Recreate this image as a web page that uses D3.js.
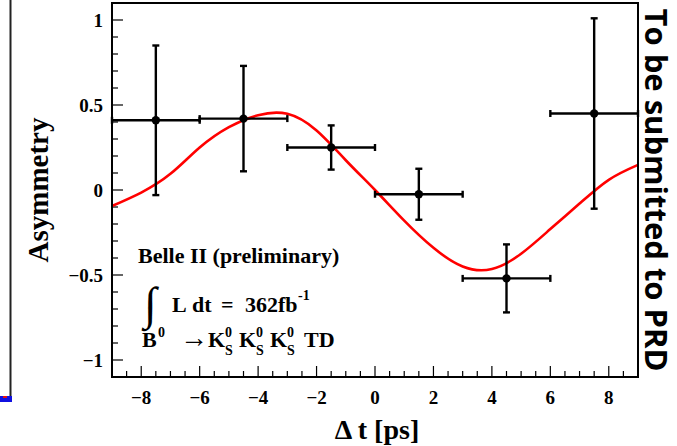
<!DOCTYPE html>
<html>
<head>
<meta charset="utf-8">
<script src="https://cdn.jsdelivr.net/npm/d3@7"></script>
<style>
  body { margin: 0; background: #fff; }
  svg { display: block; }
  text { font-family: "Liberation Serif", "Times New Roman", serif; font-weight: bold; }
</style>
</head>
<body>
<svg id="chart" width="677" height="446"></svg>
<script>
// measured bins
const binCenter = [-7.5, -4.5, -1.5, 1.5, 4.5, 7.5]
const binHalfWidth = [1.5, 1.5, 1.5, 1.5, 1.5, 1.5]
const asym = [0.41, 0.42, 0.25, -0.025, -0.52, 0.45]
const asymErr = [0.44, 0.31, 0.13, 0.15, 0.20, 0.56]

// fitted curve at each ps
const curveT = [-9, -8, -7, -6, -5, -4, -3, -2, -1, 0, 1, 2, 3, 4, 5, 6, 7, 8, 9]
const curveA = [-0.094, -0.015, 0.095, 0.25, 0.37, 0.44, 0.448, 0.35, 0.175, 0.0, -0.18, -0.34, -0.45, -0.465, -0.375, -0.23, -0.08, 0.06, 0.148]

const xTicks = [-8, -6, -4, -2, 0, 2, 4, 6, 8]
const yTicks = [-1, -0.5, 0, 0.5, 1]

const svg = d3.select('#chart')
const frame = { left: 112, right: 638, top: 3, bottom: 377 }

const x = d3.scaleLinear().domain([-9, 9]).range([frame.left, frame.right])
const y = d3.scaleLinear().domain([-1.1, 1.1]).range([frame.bottom, frame.top])

const fmt = v => (v < 0 ? '\u2212' : '') + d3.format('')(Math.abs(v))

// neighbouring panel edge on the far left
svg.append('line')
  .attr('x1', 10.5).attr('x2', 10.5).attr('y1', 0).attr('y2', 399)
  .attr('stroke', '#222').attr('stroke-width', 2)
svg.append('rect')
  .attr('x', 0).attr('y', 396).attr('width', 12).attr('height', 6)
  .attr('fill', '#1010e0')
svg.append('rect')
  .attr('x', 3).attr('y', 396).attr('width', 4).attr('height', 2)
  .attr('fill', '#e01010')

// minor + major ticks, y
const yMinor = d3.range(-11, 12).map(i => i / 10)
svg.append('g')
  .selectAll('line')
  .data(yMinor)
  .join('line')
  .attr('x1', frame.left)
  .attr('x2', d => frame.left + (Math.abs(d * 2 - Math.round(d * 2)) < 1e-6 ? 11 : 6))
  .attr('y1', d => y(d))
  .attr('y2', d => y(d))
  .attr('stroke', 'black')
  .attr('stroke-width', 1.2)

const xMinor = d3.range(-18, 19).map(i => i / 2)
svg.append('g')
  .selectAll('line')
  .data(xMinor)
  .join('line')
  .attr('x1', d => x(d))
  .attr('x2', d => x(d))
  .attr('y1', frame.bottom)
  .attr('y2', d => frame.bottom - (d % 2 === 0 ? 11 : 6))
  .attr('stroke', 'black')
  .attr('stroke-width', 1.2)

// tick labels
svg.append('g')
  .selectAll('text')
  .data(yTicks)
  .join('text')
  .attr('x', 103)
  .attr('y', d => y(d))
  .attr('dy', '0.35em')
  .attr('text-anchor', 'end')
  .style('font-size', '19px')
  .text(fmt)

svg.append('g')
  .selectAll('text')
  .data(xTicks)
  .join('text')
  .attr('x', d => x(d))
  .attr('y', 404)
  .attr('text-anchor', 'middle')
  .style('font-size', '19px')
  .text(fmt)

// axis titles
svg.append('text')
  .attr('transform', `translate(48,${y(0)}) rotate(-90)`)
  .attr('text-anchor', 'middle')
  .style('font-size', '29px')
  .text('Asymmetry')

svg.append('text')
  .attr('x', 377)
  .attr('y', 439)
  .attr('text-anchor', 'middle')
  .style('font-size', '28px')
  .text('\u0394 t [ps]')

// fit curve
const line = d3.line()
  .x((d, i) => x(curveT[i]))
  .y(d => y(d))
  .curve(d3.curveNatural)

svg.append('path')
  .datum(curveA)
  .attr('d', line)
  .attr('fill', 'none')
  .attr('stroke', '#ff0000')
  .attr('stroke-width', 2.6)

// data points with error bars
const pts = binCenter.map((c, i) => ({ c, hw: binHalfWidth[i], v: asym[i], e: asymErr[i] }))
const cap = 3.5
const g = svg.append('g').attr('stroke', 'black').attr('stroke-width', 2.4)

g.selectAll('.hbar').data(pts).join('line')
  .attr('x1', d => x(d.c - d.hw)).attr('x2', d => x(d.c + d.hw))
  .attr('y1', d => y(d.v)).attr('y2', d => y(d.v))
g.selectAll('.vbar').data(pts).join('line')
  .attr('x1', d => x(d.c)).attr('x2', d => x(d.c))
  .attr('y1', d => y(d.v + d.e)).attr('y2', d => y(d.v - d.e))

// end caps
pts.forEach(d => {
  [d.c - d.hw, d.c + d.hw].forEach(t => {
    g.append('line')
      .attr('x1', x(t)).attr('x2', x(t))
      .attr('y1', y(d.v) - cap).attr('y2', y(d.v) + cap)
  })
  ;[d.v - d.e, d.v + d.e].forEach(v => {
    g.append('line')
      .attr('x1', x(d.c) - cap).attr('x2', x(d.c) + cap)
      .attr('y1', y(v)).attr('y2', y(v))
  })
})

svg.append('g')
  .selectAll('circle')
  .data(pts)
  .join('circle')
  .attr('cx', d => x(d.c))
  .attr('cy', d => y(d.v))
  .attr('r', 4.2)
  .attr('fill', 'black')

// frame on top
svg.append('rect')
  .attr('x', frame.left).attr('y', frame.top)
  .attr('width', frame.right - frame.left).attr('height', frame.bottom - frame.top)
  .attr('fill', 'none').attr('stroke', 'black').attr('stroke-width', 2)

// legend text
svg.append('text')
  .attr('x', 138).attr('y', 263)
  .style('font-size', '22px')
  .text('Belle II (preliminary)')

svg.append('text')
  .attr('x', 144).attr('y', 319)
  .style('font-size', '46px')
  .style('font-weight', 'normal')
  .text('\u222B')

const lum = svg.append('text').style('font-size', '22px')
const lumParts = [['L', 172], ['dt', 192], ['=', 221], ['362fb', 245]]
lumParts.forEach(([s, px]) => lum.append('tspan').attr('x', px).attr('y', 312).text(s))
lum.append('tspan').attr('x', 298).attr('y', 300).style('font-size', '14px').text('-1')

const dec = svg.append('text').style('font-size', '22px')
dec.append('tspan').attr('x', 142).attr('y', 347).text('B')
dec.append('tspan').attr('x', 158).attr('y', 337).style('font-size', '14px').text('0')
dec.append('tspan').attr('x', 180).attr('y', 347).style('font-size', '28px').style('font-weight', 'normal').text('\u2192')
for (let k = 0; k < 3; k++) {
  const kx = 208 + k * 31
  dec.append('tspan').attr('x', kx).attr('y', 347).text('K')
  dec.append('tspan').attr('x', kx + 17).attr('y', 337).style('font-size', '14px').text('0')
  dec.append('tspan').attr('x', kx + 17).attr('y', 355).style('font-size', '14px').text('S')
}
dec.append('tspan').attr('x', 304).attr('y', 347).text('TD')

// side note
svg.append('text')
  .attr('transform', `translate(645,${y(0)}) rotate(90)`)
  .attr('text-anchor', 'middle')
  .style('font-family', '"Open Sans", sans-serif')
  .style('font-size', '31px')
  .text('To be submitted to PRD')
</script>
</body>
</html>
